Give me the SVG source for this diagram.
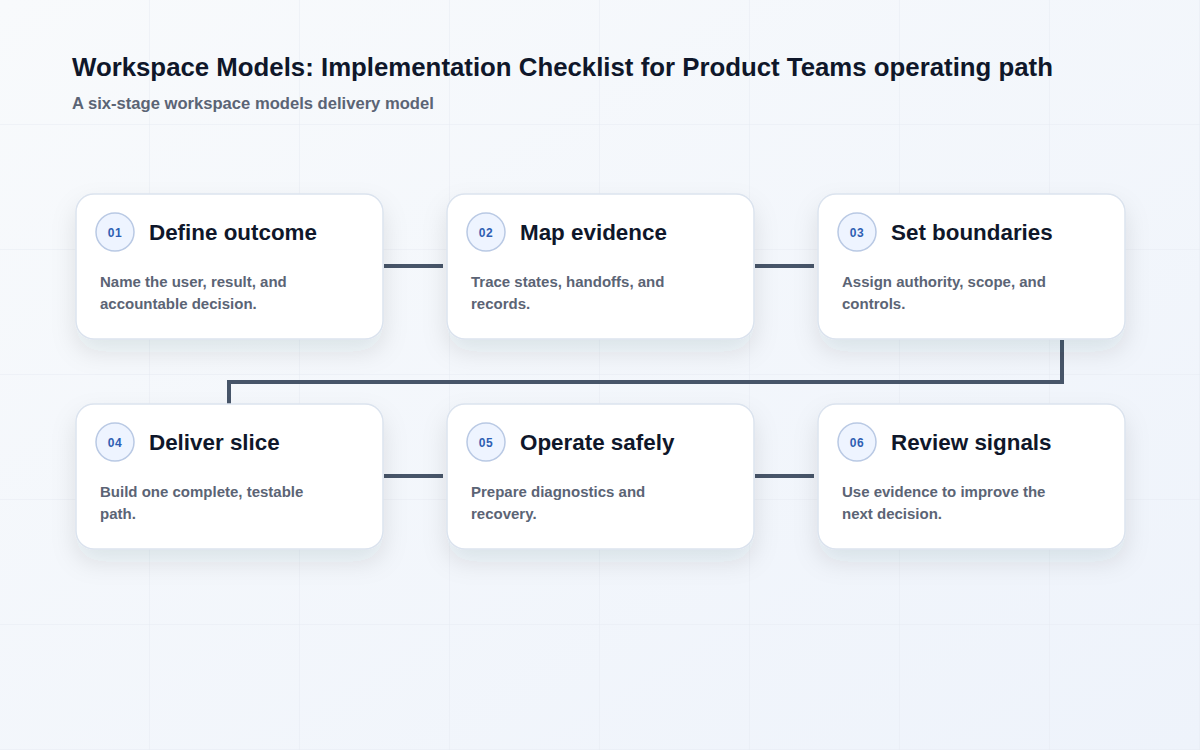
<svg xmlns="http://www.w3.org/2000/svg" width="1200" height="750" viewBox="0 0 1200 750">
<defs>
<linearGradient id="bg" x1="0" y1="0" x2="1" y2="1">
<stop offset="0" stop-color="#f8fafc"/>
<stop offset="1" stop-color="#eef3fb"/>
</linearGradient>
<pattern id="grid" width="150" height="125" patternUnits="userSpaceOnUse">
<path d="M150 0V125M0 125H150" fill="none" stroke="#e6ebf2" stroke-width="1"/>
</pattern>
<filter id="sh" x="-20%" y="-20%" width="140%" height="160%">
<feDropShadow dx="0" dy="12" stdDeviation="12" flood-color="#1e293b" flood-opacity="0.10"/>
</filter>
</defs>
<style>
.card{fill:#ffffff;stroke:#dbe3ee;stroke-width:1.5}
.badge{fill:#eef4ff;stroke:#b9c9e4;stroke-width:1.5}
.num{font-family:"Liberation Sans",Arial,sans-serif;font-size:12px;font-weight:700;fill:#2f5fb3;text-anchor:middle;letter-spacing:0.5px}
.ttl{font-family:"Liberation Sans",Arial,sans-serif;font-size:22.4px;font-weight:700;fill:#0f172a}
.desc{font-family:"Liberation Sans",Arial,sans-serif;font-size:15px;font-weight:700;fill:#5b6475}
.conn{fill:none;stroke:#475569;stroke-width:4;stroke-linejoin:miter}
</style>
<rect width="1200" height="750" fill="url(#bg)"/>
<rect width="1200" height="750" fill="url(#grid)"/>
<text x="72" y="76" font-family="Liberation Sans,Arial,sans-serif" font-size="25.8" font-weight="700" fill="#0f172a">Workspace Models: Implementation Checklist for Product Teams operating path</text>
<text x="72" y="109" font-family="Liberation Sans,Arial,sans-serif" font-size="16.6" font-weight="700" fill="#5b6475">A six-stage workspace models delivery model</text>
<g id="connectors">
<path class="conn" d="M384 266H443"/>
<path class="conn" d="M755 266H814"/>
<path class="conn" d="M1062 340V382H229V404"/>
<path class="conn" d="M384 476H443"/>
<path class="conn" d="M755 476H814"/>
</g>
<g id="node1">
<rect class="card" x="76" y="194" width="307" height="145" rx="18" filter="url(#sh)"/>
<circle class="badge" cx="115" cy="232" r="19"/>
<text class="num" x="115" y="236.5">01</text>
<text class="ttl" x="149" y="240">Define outcome</text>
<text class="desc" x="100" y="287">Name the user, result, and</text>
<text class="desc" x="100" y="309">accountable decision.</text>
</g>
<g id="node2">
<rect class="card" x="447" y="194" width="307" height="145" rx="18" filter="url(#sh)"/>
<circle class="badge" cx="486" cy="232" r="19"/>
<text class="num" x="486" y="236.5">02</text>
<text class="ttl" x="520" y="240">Map evidence</text>
<text class="desc" x="471" y="287">Trace states, handoffs, and</text>
<text class="desc" x="471" y="309">records.</text>
</g>
<g id="node3">
<rect class="card" x="818" y="194" width="307" height="145" rx="18" filter="url(#sh)"/>
<circle class="badge" cx="857" cy="232" r="19"/>
<text class="num" x="857" y="236.5">03</text>
<text class="ttl" x="891" y="240">Set boundaries</text>
<text class="desc" x="842" y="287">Assign authority, scope, and</text>
<text class="desc" x="842" y="309">controls.</text>
</g>
<g id="node4">
<rect class="card" x="76" y="404" width="307" height="145" rx="18" filter="url(#sh)"/>
<circle class="badge" cx="115" cy="442" r="19"/>
<text class="num" x="115" y="446.5">04</text>
<text class="ttl" x="149" y="450">Deliver slice</text>
<text class="desc" x="100" y="497">Build one complete, testable</text>
<text class="desc" x="100" y="519">path.</text>
</g>
<g id="node5">
<rect class="card" x="447" y="404" width="307" height="145" rx="18" filter="url(#sh)"/>
<circle class="badge" cx="486" cy="442" r="19"/>
<text class="num" x="486" y="446.5">05</text>
<text class="ttl" x="520" y="450">Operate safely</text>
<text class="desc" x="471" y="497">Prepare diagnostics and</text>
<text class="desc" x="471" y="519">recovery.</text>
</g>
<g id="node6">
<rect class="card" x="818" y="404" width="307" height="145" rx="18" filter="url(#sh)"/>
<circle class="badge" cx="857" cy="442" r="19"/>
<text class="num" x="857" y="446.5">06</text>
<text class="ttl" x="891" y="450">Review signals</text>
<text class="desc" x="842" y="497">Use evidence to improve the</text>
<text class="desc" x="842" y="519">next decision.</text>
</g>
</svg>
